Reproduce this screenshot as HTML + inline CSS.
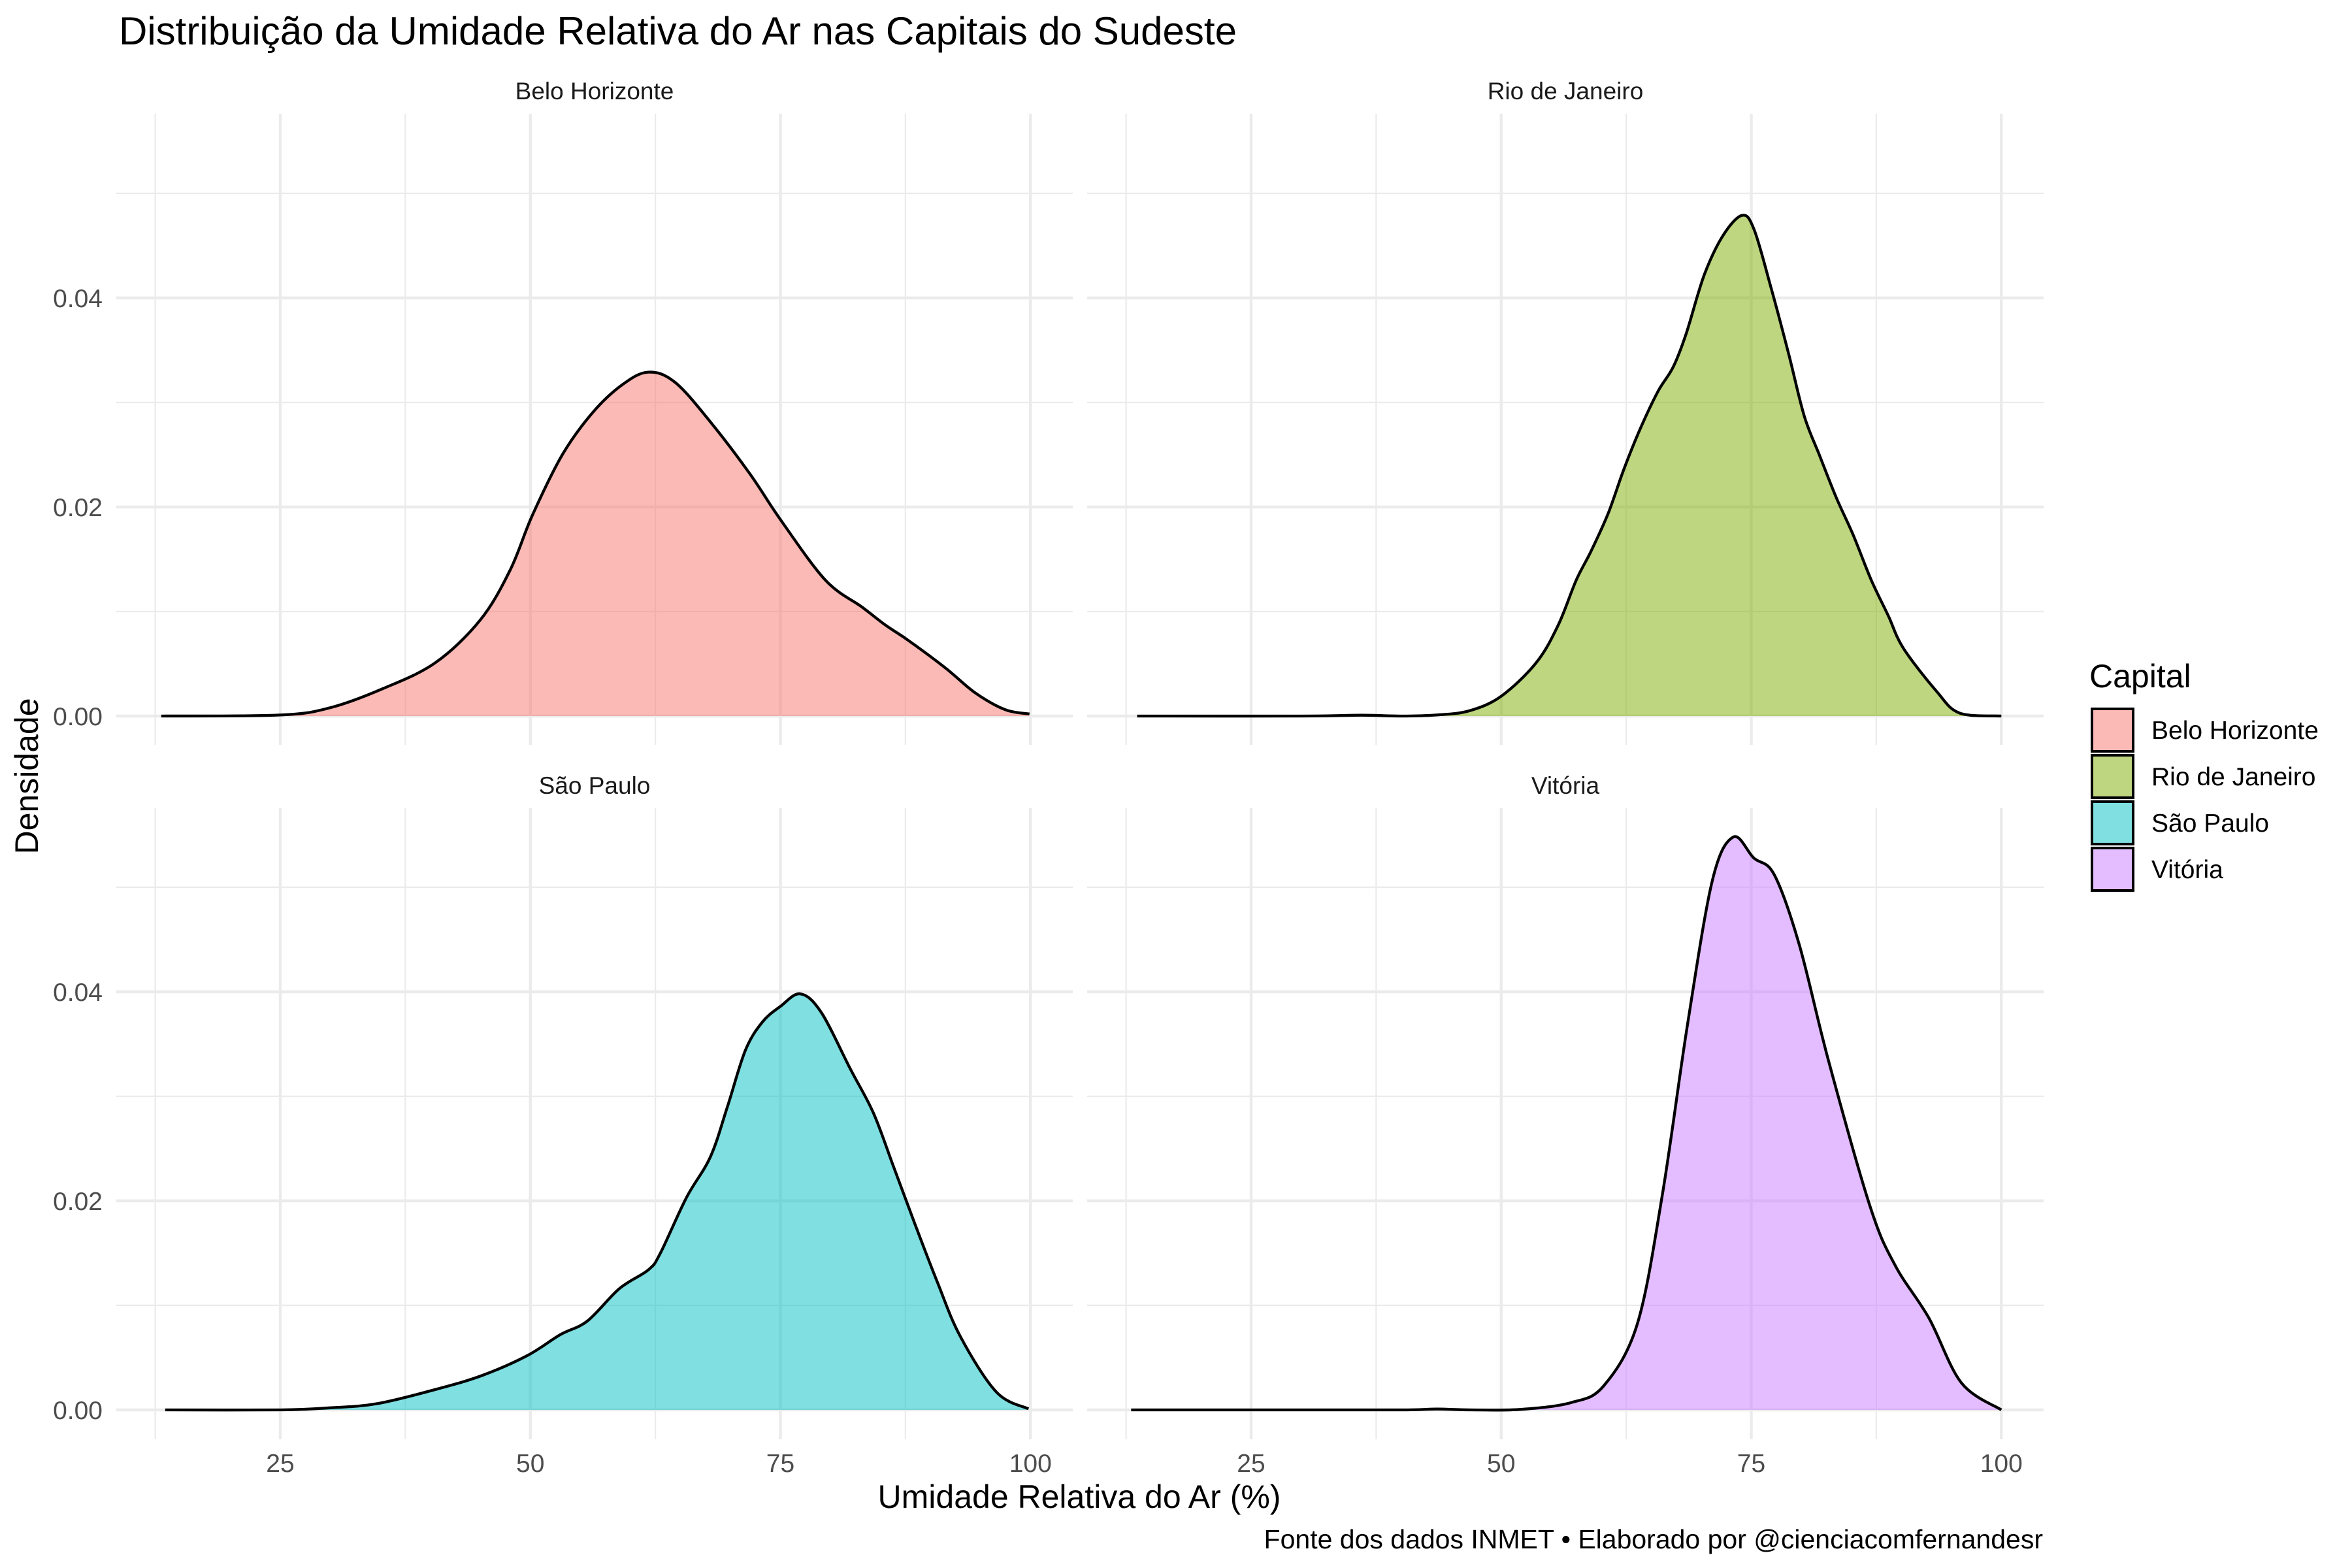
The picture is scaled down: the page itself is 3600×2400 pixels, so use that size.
<!DOCTYPE html>
<html><head><meta charset="utf-8">
<style>
html,body{margin:0;padding:0;background:#fff;}
svg{display:block;font-family:"Liberation Sans",Arial,sans-serif;}
</style></head>
<body>
<svg id="chart" width="3600" height="2400" viewBox="0 0 3600 2400" xmlns="http://www.w3.org/2000/svg">
<rect width="3600" height="2400" fill="#fff"/>
<text x="182" y="68" font-size="60" fill="#000">Distribuição da Umidade Relativa do Ar nas Capitais do Sudeste</text>
<g id="panels"></g>
<text transform="translate(58,1188) rotate(-90)" text-anchor="middle" font-size="50" fill="#000">Densidade</text>
<text x="1652" y="2308" text-anchor="middle" font-size="50" fill="#000">Umidade Relativa do Ar (%)</text>
<text x="3127" y="2370" text-anchor="end" font-size="41" fill="#000">Fonte dos dados INMET • Elaborado por @cienciacomfernandesr</text>
<g id="legend">
<text x="3198" y="1052" font-size="50" fill="#000">Capital</text>
</g>
</svg>
<script>
const capitals = ["Belo Horizonte","Rio de Janeiro","São Paulo","Vitória"];
const fills = ["#F8766D","#7CAE00","#00BFC4","#C77CFF"];
const xTicks = [25,50,75,100];
const xMinor = [12.5,37.5,62.5,87.5];
const yTicks = [0,0.02,0.04];
const yTickLabels = ["0.00","0.02","0.04"];
const yMinor = [0.01,0.03,0.05];
const bhX = [13.1,25,30,35.2,40.5,45,48,50.2,53.2,56.2,59.2,61.8,64.5,68.2,72,75,79.5,83.2,85.5,87.7,91.5,94.5,97.5,99.9];
const bhY = [0,0.0001,0.0008,0.0026,0.0051,0.0092,0.014,0.0192,0.025,0.029,0.0317,0.0329,0.0319,0.0279,0.0231,0.0188,0.013,0.0104,0.0087,0.0073,0.0046,0.0022,0.0006,0.0002];
const rjX = [13.6,30,36,40,43.5,46.8,50,53.5,55.7,57.5,59,60.7,62.3,64,65.7,67.2,68.5,70.3,72.2,74.1,75.3,77,78.7,80.3,81.8,83.5,85.2,87,88.7,90.2,93.5,95.8,100];
const rjY = [0,0,0.00008,0,0.0001,0.0005,0.0019,0.0051,0.0087,0.013,0.0158,0.0194,0.0237,0.0277,0.0311,0.0334,0.0366,0.0422,0.046,0.0479,0.0465,0.0409,0.0348,0.0287,0.025,0.0209,0.0173,0.013,0.0096,0.0065,0.0024,0.0003,0];
const spX = [13.5,25,30,34.7,40.7,45.2,49.7,53,55.7,58.9,61.8,63,65.6,68,69.7,71.5,73.2,75,77,79.1,82,84.3,86.3,88.4,90.7,93,96.6,99.8];
const spY = [0,0,0.0002,0.0006,0.002,0.0033,0.0052,0.0072,0.0085,0.0116,0.0134,0.015,0.0203,0.0242,0.029,0.0344,0.0371,0.0386,0.0398,0.038,0.0326,0.0284,0.0233,0.0179,0.0122,0.007,0.0017,0.0001];
const viX = [13,30,40.25,43.6,47,52,57,60.25,63.6,66.1,68.6,71.1,73.2,75.25,77.3,79.8,82.75,86.9,89.4,92.75,96,100];
const viY = [0,0,0,0.00008,0,0.00005,0.0007,0.0023,0.0082,0.0205,0.0367,0.0506,0.0548,0.0528,0.0512,0.0445,0.0333,0.0194,0.0138,0.0088,0.0026,0];
const seriesX = [bhX,rjX,spX,viX];
const seriesY = [bhY,rjY,spY,viY];

const NS = "http://www.w3.org/2000/svg";
const panelsG = document.getElementById("panels");
const panelLeft = [178,1664];
const panelTop = [174,1237];
const panelW = 1464, panelH = 966;
const baseY = [1096,2158];
const xs = (v,col) => panelLeft[col] + 251 + (v-25)*15.31;
const ys = (v,row) => baseY[row] - v*16000;
function mk(tag, attrs, parent){
  const e = document.createElementNS(NS, tag);
  for (const k in attrs) e.setAttribute(k, attrs[k]);
  parent.appendChild(e);
  return e;
}
function smooth(pts){
  let d = "M"+pts[0][0].toFixed(1)+","+pts[0][1].toFixed(1);
  for (let i=0;i<pts.length-1;i++){
    const p0=pts[Math.max(0,i-1)], p1=pts[i], p2=pts[i+1], p3=pts[Math.min(pts.length-1,i+2)];
    const c1x=p1[0]+(p2[0]-p0[0])/6, c1y=p1[1]+(p2[1]-p0[1])/6;
    const c2x=p2[0]-(p3[0]-p1[0])/6, c2y=p2[1]-(p3[1]-p1[1])/6;
    d += " C"+c1x.toFixed(1)+","+c1y.toFixed(1)+" "+c2x.toFixed(1)+","+c2y.toFixed(1)+" "+p2[0].toFixed(1)+","+p2[1].toFixed(1);
  }
  return d;
}
capitals.forEach((name, i) => {
  const row = Math.floor(i/2), col = i%2;
  const g = mk("g", {}, panelsG);
  
  
  const L = panelLeft[col], T = panelTop[row];
  yMinor.forEach(v => {
    const ln = mk("line", {x1:L, x2:L+panelW, y1:ys(v,row), y2:ys(v,row), stroke:"#ebebeb", "stroke-width":2.2}, g);
    
    
  });
  xMinor.forEach(v => {
    const ln = mk("line", {x1:xs(v,col), x2:xs(v,col), y1:T, y2:T+panelH, stroke:"#ebebeb", "stroke-width":2.2}, g);
    
    
  });
  yTicks.forEach(v => {
    const ln = mk("line", {x1:L, x2:L+panelW, y1:ys(v,row), y2:ys(v,row), stroke:"#ebebeb", "stroke-width":4.4}, g);
    
    
  });
  xTicks.forEach(v => {
    const ln = mk("line", {x1:xs(v,col), x2:xs(v,col), y1:T, y2:T+panelH, stroke:"#ebebeb", "stroke-width":4.4}, g);
    
    
  });
  const pts = seriesX[i].map((x,k) => [xs(x,col), ys(seriesY[i][k],row)]);
  const line = smooth(pts);
  const area = mk("path", {d: line + " L"+pts[pts.length-1][0].toFixed(1)+","+ys(0,row)+" L"+pts[0][0].toFixed(1)+","+ys(0,row)+" Z", fill:fills[i], "fill-opacity":0.5, stroke:"none"}, g);
  
  
  const outline = mk("path", {d: line, fill:"none", stroke:"#000", "stroke-width":4.3, "stroke-linejoin":"round"}, g);
  
  
  const st = mk("text", {x:L+panelW/2, y:T-22, "text-anchor":"middle", "font-size":37, fill:"#1a1a1a"}, g);
  st.textContent = name;
  
  
  if (col === 0) {
    yTicks.forEach((v,k) => {
      const t = mk("text", {x:157, y:ys(v,row)+14, "text-anchor":"end", "font-size":39, fill:"#4d4d4d"}, g);
      t.textContent = yTickLabels[k];
      
      
    });
  }
  if (row === 1) {
    xTicks.forEach(v => {
      const t = mk("text", {x:xs(v,col), y:2253, "text-anchor":"middle", "font-size":39, fill:"#4d4d4d"}, g);
      t.textContent = String(v);
      
      
    });
  }
});
const lg = document.getElementById("legend");
capitals.forEach((name,i) => {
  const y0 = 1082 + i*71;
  const r = mk("rect", {x:3202, y:y0+3, width:63, height:65, fill:fills[i], "fill-opacity":0.5, stroke:"#000", "stroke-width":4}, lg);
  
  
  const t = mk("text", {x:3293, y:y0+49, "font-size":39, fill:"#000"}, lg);
  t.textContent = name;
  
  
});
</script>
</body></html>
